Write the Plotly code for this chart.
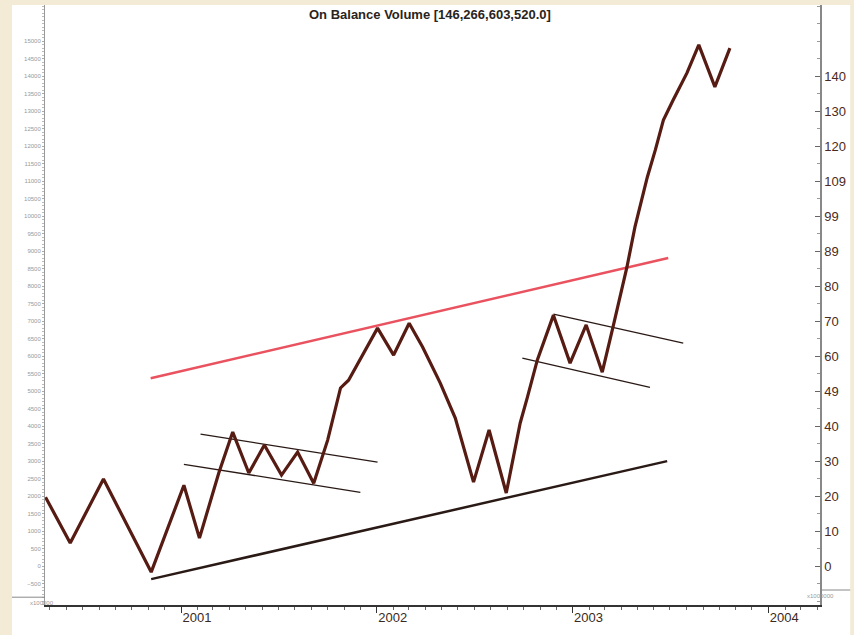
import plotly.graph_objects as go

# On Balance Volume series (units of 1,000,000)
obv_dates = [
    "2000-04-23", "2000-06-08", "2000-08-09", "2000-11-06", "2001-01-06",
    "2001-02-04", "2001-03-12", "2001-04-07", "2001-05-07", "2001-06-05",
    "2001-07-07", "2001-08-06", "2001-09-05", "2001-10-01", "2001-10-25",
    "2001-11-09", "2002-01-02", "2002-02-01", "2002-03-02", "2002-03-27",
    "2002-04-29", "2002-05-27", "2002-06-30", "2002-07-29", "2002-08-30",
    "2002-09-25", "2002-10-08", "2002-10-27", "2002-11-26", "2002-12-27",
    "2003-01-26", "2003-02-25", "2003-03-17", "2003-04-12", "2003-04-27",
    "2003-05-20", "2003-06-04", "2003-06-19", "2003-07-07", "2003-08-02",
    "2003-08-24", "2003-09-23", "2003-10-21",
]
obv_values = [
    19.7, 6.6, 24.9, -1.7, 23.1,
    8.0, 26.6, 38.3, 26.6, 34.6,
    26.0, 32.6, 23.7, 36.0, 50.9,
    53.1, 68.0, 60.3, 69.4, 62.6,
    52.3, 42.3, 24.0, 38.9, 20.9,
    40.9, 48.0, 58.9, 71.7, 58.0,
    68.9, 55.4, 68.3, 85.4, 96.9,
    111.1, 118.9, 127.4, 133.1, 140.9,
    148.9, 136.9, 148.0,
]

# drawn trend lines: ([start date, end date], [start value, end value])
resistance = (["2000-11-05", "2003-06-28"], [53.7, 88.0])
support = (["2000-11-06", "2003-06-26"], [-3.7, 30.0])
flag1_top = (["2001-02-06", "2002-01-02"], [37.7, 29.7])
flag1_bottom = (["2001-01-06", "2001-12-01"], [29.1, 21.1])
flag2_top = (["2002-11-26", "2003-07-26"], [72.0, 63.7])
flag2_bottom = (["2002-09-29", "2003-05-25"], [59.4, 51.1])

right_ticks = [0, 10, 20, 30, 40, 50, 60, 70, 80, 90, 100, 110, 120, 130, 140]
right_labels = ["0", "10", "20", "30", "40", "49", "60", "70", "80", "89",
                "99", "109", "120", "130", "140"]
left_ticks = list(range(-500, 15001, 500))
left_scale = 100  # left axis shows the same volume in units of 100,000

LINE = "#561b12"
FONT = "Liberation Sans"

fig = go.Figure()

fig.add_trace(go.Scatter(
    x=resistance[0], y=resistance[1], mode="lines",
    line=dict(color="#e9525e", width=2.5), showlegend=False,
))
fig.add_trace(go.Scatter(
    x=support[0], y=support[1], mode="lines",
    line=dict(color="#2a1a16", width=2.5), showlegend=False,
))
for xs, ys in (flag1_top, flag1_bottom, flag2_top, flag2_bottom):
    fig.add_trace(go.Scatter(
        x=xs, y=ys, mode="lines",
        line=dict(color="#2a1a16", width=1.3), showlegend=False,
    ))
fig.add_trace(go.Scatter(
    x=obv_dates, y=obv_values, mode="lines",
    line=dict(color=LINE, width=3.2), showlegend=False,
))
# same series on the left scale, invisible, so that axis gets drawn
fig.add_trace(go.Scatter(
    x=obv_dates, y=[v * left_scale for v in obv_values], yaxis="y2",
    mode="lines", opacity=0, hoverinfo="skip", showlegend=False,
))

# white chart panel over the beige page
fig.add_shape(type="rect", xref="paper", yref="paper",
              x0=-0.0426, x1=1.039, y0=-0.06, y1=1.0,
              fillcolor="white", line_width=0, layer="below")
# little unit boxes at the bottom of both value axes
fig.add_shape(type="line", xref="paper", yref="paper",
              x0=-0.0426, x1=0, y0=0.013, y1=0.013,
              line=dict(color="#888", width=1))
fig.add_shape(type="line", xref="paper", yref="paper",
              x0=1.0, x1=1.039, y0=0.025, y1=0.025,
              line=dict(color="#888", width=1))

fig.add_annotation(text="<b>On Balance Volume [146,266,603,520.0]</b>",
                   xref="paper", yref="paper", x=0.497, y=0.985,
                   yanchor="middle", showarrow=False,
                   font=dict(family=FONT, size=13, color="#2a2420"))
fig.add_annotation(text="x100000", xref="paper", yref="paper",
                   x=-0.022, y=0.011, yanchor="top", showarrow=False,
                   font=dict(family=FONT, size=6, color="#999"))
fig.add_annotation(text="x1000000", xref="paper", yref="paper",
                   x=1.02, y=0.023, yanchor="top", showarrow=False,
                   font=dict(family=FONT, size=6, color="#999"))

fig.update_layout(
    width=854, height=635,
    margin=dict(l=45, r=34, t=5, b=30),
    paper_bgcolor="#f3ebd6",
    plot_bgcolor="white",
    font=dict(family=FONT),
    xaxis=dict(
        type="date", range=["2000-04-22", "2004-04-06"],
        dtick="M12", tick0="2001-01-01", tickformat="%Y",
        ticklabelposition="outside right",
        ticks="outside", ticklen=6, tickcolor="#333",
        showgrid=False, zeroline=False,
        showline=True, linecolor="#333", linewidth=1.5,
        tickfont=dict(size=13, color="#3a2a20"),
        minor=dict(dtick="M1", ticks="outside", ticklen=3, tickcolor="#666"),
    ),
    yaxis=dict(
        side="right", range=[-11.1, 160.3],
        tickvals=right_ticks, ticktext=right_labels,
        ticks="inside", ticklen=5, tickcolor="#666",
        showgrid=False, zeroline=False,
        showline=True, linecolor="#888", linewidth=1.5,
        tickfont=dict(size=13, color="#4a2a20"),
        minor=dict(dtick=5, ticks="inside", ticklen=3, tickcolor="#999"),
    ),
    yaxis2=dict(
        overlaying="y", side="left",
        range=[-11.1 * left_scale, 160.3 * left_scale],
        tickvals=left_ticks, tickformat="d",
        ticks="outside", ticklen=2, tickcolor="#aaa",
        showgrid=False, zeroline=False,
        showline=True, linecolor="#999", linewidth=1,
        tickfont=dict(size=6, color="#999"),
        minor=dict(dtick=100, ticks="outside", ticklen=2, tickcolor="#bbb"),
    ),
)

fig.write_html("out.html",
               config={"displayModeBar": False},
               post_script="document.body.style.margin='0';"
                           "document.body.style.overflow='hidden';")
